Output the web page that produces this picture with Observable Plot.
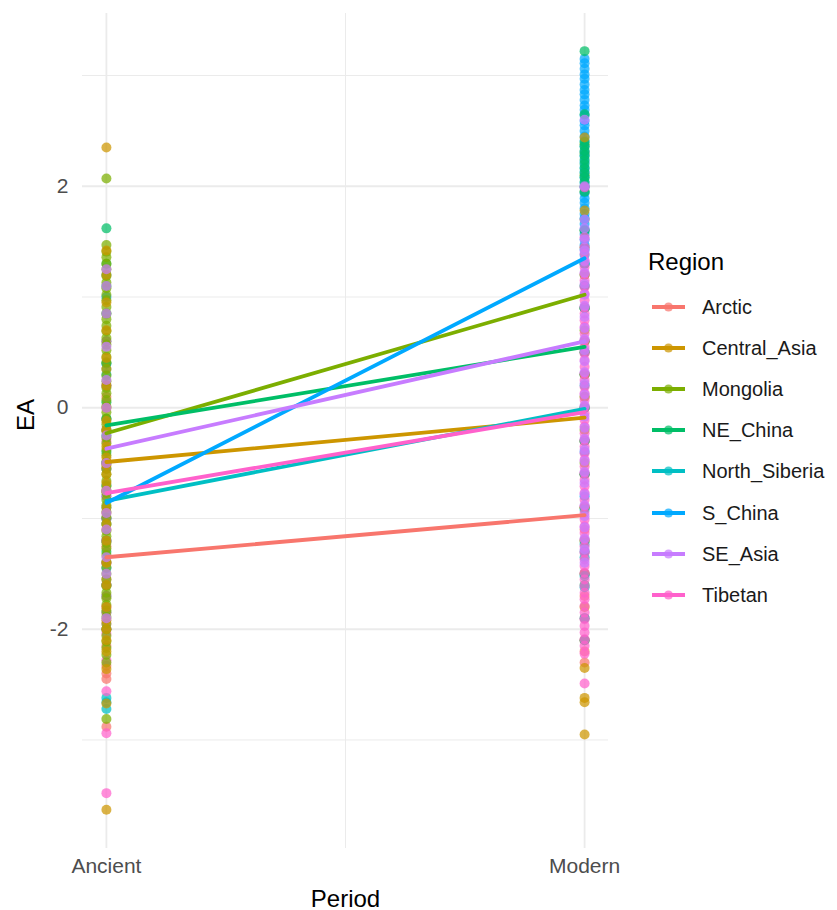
<!DOCTYPE html>
<html><head><meta charset="utf-8">
<script src="https://cdn.jsdelivr.net/npm/d3@7"></script>
<script src="https://cdn.jsdelivr.net/npm/@observablehq/plot@0.6"></script>
<style>
body{margin:0;background:#fff;font-family:"Liberation Sans",Arial,sans-serif;}
#wrap{position:relative;width:837px;height:910px;overflow:hidden;}
#chart{position:absolute;left:0;top:0;}
.lg{position:absolute;white-space:nowrap;color:#1a1a1a;}
</style></head><body><div id="wrap"><div id="chart"></div></div>
<script>
// ---- data ----
const regions = ["Arctic","Central_Asia","Mongolia","NE_China","North_Siberia","S_China","SE_Asia","Tibetan"];
const regionColors = ["#F8766D","#CD9600","#7CAE00","#00BE67","#00BFC4","#00A9FF","#C77CFF","#FF61CC"];
const periods = ["Ancient","Modern"];
const meanAncient = [-1.35, -0.49, -0.23, -0.16, -0.84, -0.86, -0.37, -0.77];
const meanModern  = [-0.97, -0.09, 1.02, 0.55, -0.01, 1.35, 0.60, -0.04];
const yTickValues = [-2, 0, 2];
const yMinorGrid = [-3, -1, 1, 3];

// individual EA values, Ancient
const arcticAncient = [0.35, 0.1, -0.2, -0.5, -0.75, -0.95, -1.1, -1.25, -1.4, -1.55, -1.7, -1.85, -2.0, -2.15, -2.33, -2.4, -2.45, -2.88];
const centralAsiaAncient = [2.35, 1.42, 1.2, 0.95, 0.7, 0.45, 0.2, 0.0, -0.12, -0.2, -0.35, -0.45, -0.52, -0.6, -0.68, -0.75, -0.9, -1.05, -1.2, -1.4, -1.6, -1.8, -1.92, -2.0, -2.1, -2.2, -2.36, -2.67, -3.63];
const mongoliaAncient = [2.07, 1.47, 1.41, 1.36, 1.3, 1.25, 1.19, 1.13, 1.08, 1.02, 0.97, 0.91, 0.85, 0.8, 0.74, 0.69, 0.63, 0.57, 0.52, 0.46, 0.41, 0.35, 0.29, 0.24, 0.18, 0.13, 0.07, 0.01, -0.04, -0.1, -0.15, -0.21, -0.27, -0.32, -0.38, -0.43, -0.49, -0.55, -0.6, -0.66, -0.71, -0.77, -0.83, -0.88, -0.94, -0.99, -1.05, -1.11, -1.16, -1.22, -1.27, -1.33, -1.39, -1.44, -1.5, -1.55, -1.61, -1.67, -1.72, -1.78, -1.83, -1.89, -1.95, -2.0, -2.06, -2.11, -2.17, -2.23, -2.3, -2.81];
const neChinaAncient = [1.62, 1.3, 1.1, 0.85, 0.6, 0.4, 0.2, 0.05, -0.1, -0.25, -0.4, -0.55, -0.75, -1.0, -1.3, -1.6];
const northSiberiaAncient = [1.2, 0.3, -0.2, -0.5, -0.7, -0.9, -1.05, -1.2, -1.4, -1.6, -1.85, -2.62, -2.66, -2.72];
const sChinaAncient = [1.0, 0.4, -0.1, -0.5, -0.8, -1.0, -1.2, -1.45, -1.7, -2.0];
const seAsiaAncient = [1.25, 1.1, 0.85, 0.55, 0.25, 0.0, -0.25, -0.5, -0.75, -0.95, -1.1, -1.35, -1.5, -1.9];
const tibetanAncient = [0.6, 0.2, -0.3, -0.55, -0.8, -1.0, -1.2, -1.4, -1.6, -1.8, -1.95, -2.04, -2.28, -2.56, -2.94, -3.48];

// individual EA values, Modern
const arcticModern = [0.5, 0.1, -0.3, -0.6, -0.9, -1.1, -1.3, -1.5, -1.7, -1.9, -2.1, -2.2, -2.3];
const centralAsiaModern = [2.44, 1.78, 1.2, 0.9, 0.6, 0.3, 0.0, -0.3, -0.6, -0.9, -1.2, -1.5, -1.8, -2.1, -2.35, -2.62, -2.66, -2.95];
const mongoliaModern = [2.38, 2.3, 2.1, 1.95, 1.7, 1.6, 1.45, 1.3, 1.1, 0.9, 0.7, 0.5, 0.3, 0.1, -0.2, -0.5];
const neChinaModern = [3.22, 2.65, 2.4, 2.36, 2.32, 2.28, 2.24, 2.2, 2.16, 2.12, 2.08, 2.04, 2.0, 1.95, 1.6, 1.2, 0.9, 0.6, 0.3, 0.0, -0.3, -0.6, -0.9, -1.2, -1.6];
const northSiberiaModern = [1.3, 0.9, 0.5, 0.2, 0.0, -0.3, -0.6, -0.92, -1.23, -1.35, -1.52, -1.62, -1.9, -2.1];
const sChinaModern = [3.15, 3.11, 3.06, 3.01, 2.97, 2.92, 2.87, 2.83, 2.78, 2.73, 2.69, 2.64, 2.59, 2.55, 2.5, 2.45, 2.41, 2.36, 2.31, 2.27, 2.22, 2.17, 2.13, 2.08, 2.03, 1.99, 1.94, 1.89, 1.85, 1.8, 1.75, 1.71, 1.66, 1.61, 1.57, 1.52, 1.47, 1.43, 1.38, 1.3, 1.1, 0.9, 0.6, 0.3, 0.0, -0.4, -0.8, -1.3, -1.5];
const seAsiaModern = [2.6, 2.0, 1.7, 1.62, 1.52, 1.42, 1.32, 1.22, 1.12, 1.02, 0.92, 0.82, 0.72, 0.62, 0.52, 0.42, 0.32, 0.22, 0.12, 0.02, -0.08, -0.18, -0.28, -0.38, -0.48, -0.58, -0.68, -0.78, -0.88, -0.98, -1.08, -1.18, -1.28, -1.4];
const tibetanModern = [1.99, 1.54, 1.45, 1.39, 1.33, 1.27, 1.21, 1.15, 1.09, 1.03, 0.97, 0.91, 0.85, 0.79, 0.73, 0.67, 0.61, 0.55, 0.49, 0.43, 0.37, 0.31, 0.25, 0.19, 0.13, 0.07, 0.01, -0.05, -0.11, -0.17, -0.23, -0.29, -0.35, -0.41, -0.47, -0.53, -0.59, -0.65, -0.71, -0.77, -0.83, -0.89, -0.95, -1.01, -1.07, -1.13, -1.19, -1.25, -1.31, -1.37, -1.43, -1.49, -1.55, -1.61, -1.67, -1.73, -1.79, -1.85, -1.91, -1.97, -2.03, -2.09, -2.15, -2.22, -2.49];

// ---- build tables ----
const ancientByRegion = {Arctic: arcticAncient, Central_Asia: centralAsiaAncient, Mongolia: mongoliaAncient, NE_China: neChinaAncient, North_Siberia: northSiberiaAncient, S_China: sChinaAncient, SE_Asia: seAsiaAncient, Tibetan: tibetanAncient};
const modernByRegion = {Arctic: arcticModern, Central_Asia: centralAsiaModern, Mongolia: mongoliaModern, NE_China: neChinaModern, North_Siberia: northSiberiaModern, S_China: sChinaModern, SE_Asia: seAsiaModern, Tibetan: tibetanModern};
const ancientOrder = ["North_Siberia","S_China","NE_China","Arctic","Tibetan","Mongolia","Central_Asia","SE_Asia"];
const modernOrder = ["Arctic","Mongolia","S_China","NE_China","Central_Asia","North_Siberia","Tibetan","SE_Asia"];
const points = [];
for (const r of ancientOrder) for (const v of ancientByRegion[r]) points.push({period: 0, EA: v, Region: r});
for (const r of modernOrder) for (const v of modernByRegion[r]) points.push({period: 1, EA: v, Region: r});
const means = [];
regions.forEach((r, i) => {
  means.push({period: 0, EA: meanAncient[i], Region: r});
  means.push({period: 1, EA: meanModern[i], Region: r});
});

const grid = "#ebebeb";
const chart = Plot.plot({
  width: 620, height: 910,
  marginLeft: 82, marginRight: 12, marginTop: 13, marginBottom: 62,
  style: {fontFamily: "'Liberation Sans', Arial, sans-serif", background: "#fff"},
  x: {domain: [-0.05, 1.05], label: null},
  y: {domain: [-3.98, 3.56], label: null},
  color: {domain: regions, range: regionColors},
  marks: [
    Plot.ruleY(yMinorGrid, {stroke: grid, strokeWidth: 1}),
    Plot.ruleY(yTickValues, {stroke: grid, strokeWidth: 1.8}),
    Plot.ruleX([0.5], {stroke: grid, strokeWidth: 1}),
    Plot.ruleX([0, 1], {stroke: grid, strokeWidth: 1.8}),
    Plot.axisY(yTickValues, {tickSize: 0, tickPadding: 14, fontSize: 21, fill: "#4d4d4d", label: null, tickFormat: d => String(d)}),
    Plot.axisX([0, 1], {tickSize: 0, tickPadding: 10, fontSize: 21, fill: "#4d4d4d", label: null, tickFormat: i => periods[i]}),
    Plot.dot(points, {x: "period", y: "EA", fill: "Region", r: 5, fillOpacity: 0.72, stroke: null}),
    Plot.line(means, {x: "period", y: "EA", z: "Region", stroke: "Region", strokeWidth: 3.8}),
    Plot.text(["Period"], {frameAnchor: "bottom", lineAnchor: "bottom", dy: 58, fontSize: 24, fill: "#000"}),
    Plot.text(["EA"], {frameAnchor: "left", rotate: -90, dx: -56, fontSize: 24, fill: "#000"})
  ]
});
document.getElementById("chart").appendChild(chart);

// ---- legend (ggplot style, right side) ----
const wrap = document.getElementById("wrap");
const title = document.createElement("div");
title.className = "lg";
title.textContent = "Region";
title.style.cssText = "left:648px;top:250px;font-size:24px;line-height:24px;color:#000;";
wrap.appendChild(title);
regions.forEach((r, i) => {
  const cy = 307 + i * 41.1;
  const svg = d3.create("svg").attr("width", 42).attr("height", 20)
    .style("position", "absolute").style("left", "648px").style("top", (cy - 10) + "px");
  svg.append("line").attr("x1", 4).attr("x2", 37).attr("y1", 10).attr("y2", 10)
    .attr("stroke", regionColors[i]).attr("stroke-width", 3.8);
  svg.append("circle").attr("cx", 20.5).attr("cy", 10).attr("r", 4.6)
    .attr("fill", regionColors[i]).attr("fill-opacity", 0.72);
  wrap.appendChild(svg.node());
  const lab = document.createElement("div");
  lab.className = "lg";
  lab.textContent = r;
  lab.style.cssText = `left:702px;top:${cy - 11}px;font-size:20px;line-height:22px;`;
  wrap.appendChild(lab);
});
</script></body></html>
